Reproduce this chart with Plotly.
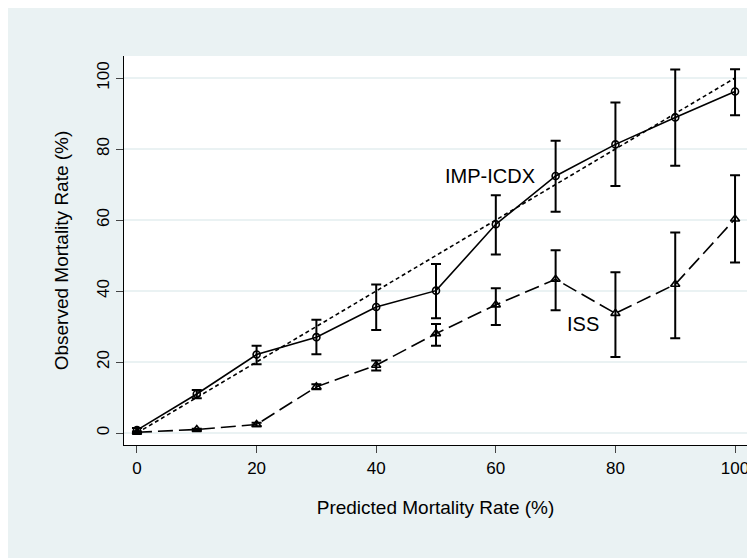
import plotly.graph_objects as go

# ---- data ----
predicted = [0, 10, 20, 30, 40, 50, 60, 70, 80, 90, 100]

imp_obs = [0.8, 11.0, 22.1, 27.0, 35.5, 40.1, 58.8, 72.4, 81.3, 88.9, 96.2]
imp_low = [0.3, 9.8, 19.4, 22.2, 29.0, 32.3, 50.3, 62.3, 69.6, 75.3, 89.5]
imp_high = [1.4, 12.1, 24.6, 31.9, 41.8, 47.6, 67.0, 82.3, 93.1, 102.4, 102.5]

iss_obs = [0.2, 1.0, 2.4, 13.0, 19.1, 28.0, 36.1, 43.3, 33.7, 41.9, 60.3]
iss_low = [0.0, 0.8, 1.9, 12.3, 17.6, 24.6, 30.4, 34.6, 21.4, 26.7, 48.0]
iss_high = [0.4, 1.2, 2.9, 13.7, 20.4, 30.7, 40.8, 51.5, 45.3, 56.5, 72.6]

ref_x = [0, 100]
ref_y = [0, 100]

x_ticks = [0, 20, 40, 60, 80, 100]
y_ticks = [0, 20, 40, 60, 80, 100]

x_title = "Predicted Mortality Rate (%)"
y_title = "Observed Mortality Rate (%)"
label_imp = "IMP-ICDX"
label_iss = "ISS"

# ---- styling ----
BG = "#EAF2F3"
FONT = "Liberation Sans, Arial, sans-serif"

fig = go.Figure()

# reference diagonal
fig.add_trace(go.Scatter(
    x=ref_x, y=ref_y, mode="lines",
    line=dict(color="black", width=1.6, dash="4px,3px"),
    showlegend=False, hoverinfo="skip"))

# ISS
fig.add_trace(go.Scatter(
    x=predicted, y=iss_obs, mode="lines+markers",
    line=dict(color="black", width=1.6, dash="15px,6px"),
    marker=dict(symbol="triangle-up-open", size=8, color="black",
                line=dict(width=1.6, color="black")),
    error_y=dict(type="data", symmetric=False,
                 array=[h - v for h, v in zip(iss_high, iss_obs)],
                 arrayminus=[v - l for v, l in zip(iss_obs, iss_low)],
                 color="black", thickness=2, width=5),
    showlegend=False))

# IMP-ICDX
fig.add_trace(go.Scatter(
    x=predicted, y=imp_obs, mode="lines+markers",
    line=dict(color="black", width=1.6),
    marker=dict(symbol="circle-open", size=7, color="black",
                line=dict(width=1.6, color="black")),
    error_y=dict(type="data", symmetric=False,
                 array=[h - v for h, v in zip(imp_high, imp_obs)],
                 arrayminus=[v - l for v, l in zip(imp_obs, imp_low)],
                 color="black", thickness=2, width=5),
    showlegend=False))

fig.add_annotation(x=59.0, y=72.4, text=label_imp, showarrow=False,
                   font=dict(family=FONT, size=20, color="black"))
fig.add_annotation(x=74.6, y=30.7, text=label_iss, showarrow=False,
                   font=dict(family=FONT, size=20, color="black"))

fig.update_layout(
    width=755, height=558,
    margin=dict(l=116, r=16, t=48, b=121),
    paper_bgcolor=BG, plot_bgcolor="white",
    font=dict(family=FONT, color="black"),
    xaxis=dict(
        range=[-2.17, 102.0], tickvals=x_ticks, ticktext=[str(v) for v in x_ticks],
        showgrid=False, zeroline=False,
        showline=True, linecolor="black", linewidth=1.3,
        ticks="outside", ticklen=7, tickwidth=1.2, tickcolor="#444444",
        tickfont=dict(family=FONT, size=17, color="black"),
        title=dict(text=x_title, font=dict(family=FONT, size=19, color="black"), standoff=24),
    ),
    yaxis=dict(
        range=[-3.38, 106.2], tickvals=y_ticks, ticktext=[str(v) for v in y_ticks],
        tickangle=-90,
        showgrid=True, gridcolor=BG, gridwidth=1.6, zeroline=False,
        showline=True, linecolor="black", linewidth=1.3,
        ticks="outside", ticklen=7, tickwidth=1.2, tickcolor="#444444",
        tickfont=dict(family=FONT, size=17, color="black"),
        title=dict(text=y_title, font=dict(family=FONT, size=19, color="black"), standoff=20),
    ),
)

fig.write_html("out.html")
